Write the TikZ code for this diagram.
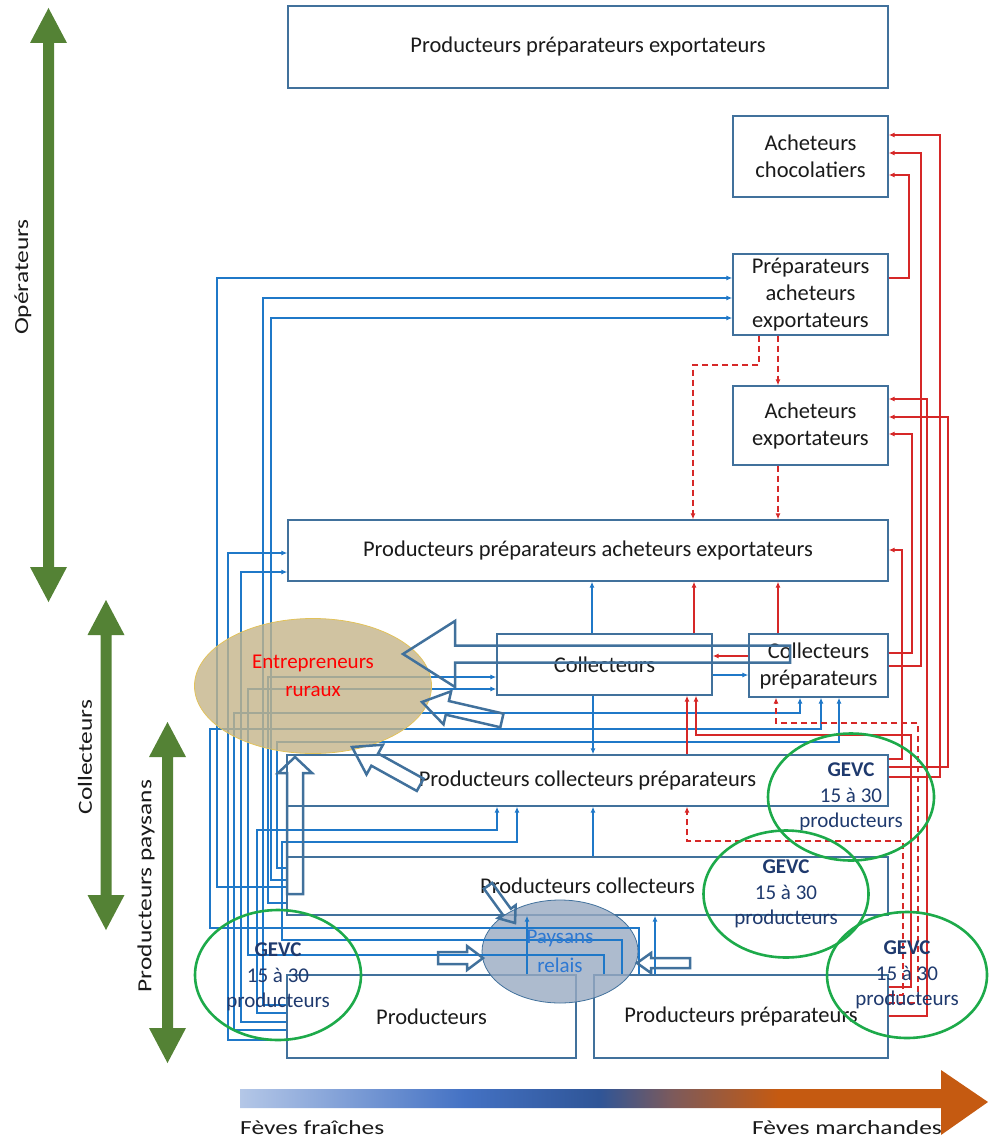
\documentclass[tikz,border=0pt]{standalone}
\usepackage{graphicx}
\usepackage{fontspec}
\setmainfont{Carlito}
\usetikzlibrary{arrows.meta, shapes.geometric}

\definecolor{boxline}{HTML}{41719C}
\definecolor{flowblue}{HTML}{1F78C8}
\definecolor{flowred}{HTML}{D62828}
\definecolor{gevcgreen}{HTML}{1DAA4A}
\definecolor{leafgreen}{HTML}{548235}
\definecolor{entrfill}{HTML}{C4B48A}
\definecolor{entrline}{HTML}{E2C25A}
\definecolor{relaisfill}{HTML}{98AAC2}
\definecolor{relaistext}{HTML}{2E78D2}
\definecolor{gevctext}{HTML}{1F3A6E}
\definecolor{textdark}{HTML}{1A1A1A}
\definecolor{fevA}{HTML}{B4C7E7}
\definecolor{fevB}{HTML}{4472C4}
\definecolor{fevC}{HTML}{2F5597}
\definecolor{fevD}{HTML}{7E5A5A}
\definecolor{fevE}{HTML}{C55A11}

\newcommand{\boxfont}{\fontsize{22.5}{27}\selectfont}
\newcommand{\gevcfont}{\fontsize{21}{25.5}\selectfont}
\newcommand{\sidefont}{\fontsize{20}{24}\selectfont}
\newcommand{\widetext}[1]{\scalebox{1.27}[1]{#1}}

\pgfdeclarehorizontalshading{feves}{100bp}{color(0bp)=(fevA); color(25bp)=(fevA);
  color(40bp)=(fevB); color(49bp)=(fevC); color(54bp)=(fevD); color(61bp)=(fevE);
  color(75bp)=(fevE); color(100bp)=(fevE)}

\tikzset{
  box/.style={draw=boxline, line width=1.3pt, minimum width=155, minimum height=81,
    inner sep=2pt, align=center, font=\boxfont, text=textdark},
  blueflow/.style={draw=flowblue, line width=1.3pt, -{Latex[length=6pt,width=5pt]}},
  redflow/.style={draw=flowred, line width=1.3pt, -{Latex[length=6pt,width=5pt]}},
  reddash/.style={redflow, dash pattern=on 6pt off 4pt},
  blockarrow/.style={draw=boxline, line width=2.5pt, line join=miter},
  gevc/.style={ellipse, draw=gevcgreen, line width=2.6pt, inner sep=0pt},
  gevclabel/.style={align=center, font=\gevcfont, text=gevctext},
  sidelabel/.style={font=\sidefont, text=textdark},
}

% tip x, tip y, angle, length, shaft half width, head half width, head length
\newcommand{\blkarrow}[7]{%
  \draw[blockarrow, shift={(#1,#2)}, rotate=#3]
    (0,0) -- (-#7,#6) -- (-#7,#5) -- (-#4,#5) -- (-#4,-#5) -- (-#7,-#5) -- (-#7,-#6) -- cycle;}
% x, top, bottom
\newcommand{\tallarrow}[3]{%
  \fill[leafgreen] (#1-5.5,#2+35) -- (#1-18.5,#2+35) -- (#1,#2) -- (#1+18.5,#2+35)
    -- (#1+5.5,#2+35) -- (#1+5.5,#3-35) -- (#1+18.5,#3-35) -- (#1,#3)
    -- (#1-18.5,#3-35) -- (#1-5.5,#3-35) -- cycle;}

\begin{document}
\begin{tikzpicture}[x=1pt, y=-1pt]
\useasboundingbox (0,0) rectangle (988,1139);

% side scales
\tallarrow{48.5}{8}{602}
\tallarrow{106}{600}{930}
\tallarrow{167.5}{722}{1063}
\node[sidelabel, rotate=90] (opLbl) at (23,277) {\widetext{Opérateurs}};
\node[sidelabel, rotate=90] (colLbl) at (85,757) {\widetext{Collecteurs}};
\node[sidelabel, rotate=90] (paysLbl) at (146,886) {\widetext{Producteurs paysans}};

% boxes
\node[box, minimum width=600, minimum height=82] (ppe) at (588,47) {Producteurs préparateurs exportateurs};
\node[box] (ach) at (810.5,156.5) {Acheteurs\\chocolatiers};
\node[box] (pae) at (810.5,294.5) {Préparateurs\\acheteurs\\exportateurs};
\node[box, minimum height=79] (ae) at (810.5,425.5) {Acheteurs\\exportateurs};
\node[box, minimum width=600, minimum height=61] (ppae) at (588,550.5) {Producteurs préparateurs acheteurs exportateurs};
\node[box, minimum width=215, minimum height=61] (coll) at (604.5,664.5) {Collecteurs};
\node[box, minimum width=139, minimum height=63] (cp) at (818.5,665.5) {Collecteurs\\préparateurs};
\node[box, minimum width=601, minimum height=51] (pcp) at (587.5,780.5) {Producteurs collecteurs préparateurs};
\node[box, minimum width=601, minimum height=58] (pc) at (587.5,886) {Producteurs collecteurs};
\node[box, minimum width=289, minimum height=83] (prod) at (431.5,1016.5) {Producteurs};
\node[box, minimum width=294, minimum height=83] (pp) at (741,1016.5) {Producteurs préparateurs};

% paysans relais (behind the flows)
\node[ellipse, fill=relaisfill, fill opacity=0.8, draw=boxline, line width=0.8pt,
  minimum width=156, minimum height=103, inner sep=0pt] (relais) at (560,951.5) {};

% blue flows, centre
\draw[blueflow] (592,0 |- coll.north) -- (592,0 |- ppae.south);
\draw[blueflow] (593,0 |- coll.south) -- (593,0 |- pcp.north);
\draw[blueflow] (coll.east |- 0,675) -- (cp.west |- 0,675);
\draw[blueflow] (593,0 |- pc.north) -- (593,0 |- pcp.south);
\draw[blueflow] (527,0 |- prod.north) -- (527,0 |- pc.south);
\draw[blueflow] (655,0 |- pp.north) -- (655,0 |- pc.south);

% blue flows, left bundle
\draw[blueflow] (639,0 |- pp.north) |- (210,928) |- (821,729) -- (821,0 |- cp.south);
\draw[blueflow] (pc.west |- 0,887) -| (217,278) -- (pae.west |- 0,278);
\draw[blueflow] (prod.west |- 0,1040) -| (228,553) -- (ppae.west |- 0,553);
\draw[blueflow] (prod.west |- 0,1030) -| (234,713) -| (800,0 |- cp.south);
\draw[blueflow] (prod.west |- 0,1022) -| (241,572) -- (ppae.west |- 0,572);
\draw[blueflow] (604,0 |- pp.north) |- (248,955) |- (coll.west |- 0,689);
\draw[blueflow] (prod.west |- 0,1013) -| (257,830) -| (497,0 |- pcp.south);
\draw[blueflow] (prod.west |- 0,1005) -| (263,298) -- (pae.west |- 0,298);
\draw[blueflow] (pc.west |- 0,903) -| (268,677) -- (coll.west |- 0,677);
\draw[blueflow] (pc.west |- 0,880) -| (271,318) -- (pae.west |- 0,318);
\draw[blueflow] (pc.west |- 0,868) -| (277,742) -| (839,0 |- cp.south);
\draw[blueflow] (622,0 |- pp.north) |- (282,940) |- (517,842) -- (517,0 |- pcp.south);

% red flows
\draw[redflow] (pae.east |- 0,278) -| (909,175) -- (ach.east |- 0,175);
\draw[redflow] (cp.east |- 0,666) -| (921,153) -- (ach.east |- 0,153);
\draw[redflow] (pcp.east |- 0,777) -| (940,135) -- (ach.east |- 0,135);
\draw[redflow] (pp.east |- 0,1016) -| (927,399) -- (ae.east |- 0,399);
\draw[redflow] (pcp.east |- 0,767) -| (948,417) -- (ae.east |- 0,417);
\draw[redflow] (cp.east |- 0,653) -| (912,434) -- (ae.east |- 0,434);
\draw[redflow] (pcp.east |- 0,759) -| (902,550) -- (ppae.east |- 0,550);
\draw[redflow] (694,0 |- coll.north) -- (694,0 |- ppae.south);
\draw[redflow] (778,0 |- cp.north) -- (778,0 |- ppae.south);
\draw[redflow] (cp.west |- 0,656) -- (coll.east |- 0,656);
\draw[redflow] (687,0 |- pcp.north) -- (687,0 |- coll.south);
\draw[redflow] (pp.east |- 0,987) -| (911,735) -| (696,0 |- coll.south);
\draw[reddash] (759,0 |- pae.south) |- (693,365) -- (693,0 |- ppae.north);
\draw[reddash] (778,0 |- pae.south) -- (778,0 |- ae.north);
\draw[reddash] (778,0 |- ae.south) -- (778,0 |- ppae.north);
\draw[reddash] (pp.east |- 0,1003) -| (918,723) -| (776,0 |- cp.south);
\draw[reddash] (pp.east |- 0,995) -| (903,841) -| (687,0 |- pcp.south);

% entrepreneurs ruraux
\node[ellipse, fill=entrfill, fill opacity=0.8, draw=entrline, line width=0.8pt,
  minimum width=237, minimum height=135, inner sep=0pt] (entr) at (313,686) {};
\node[align=center, font=\fontsize{21}{28}\selectfont, text=red] (entrLbl) at (313,676) {Entrepreneurs\\ruraux};
\node[align=center, font=\fontsize{21}{29}\selectfont, text=relaistext] (relaisLbl) at (560,951.5) {Paysans\\relais};

% open block arrows
\blkarrow{403}{654}{180}{387}{8.5}{33}{52}
\blkarrow{422}{702}{167}{82}{7}{17}{26}
\blkarrow{352}{747}{151}{78}{7}{17}{26}
\blkarrow{295}{757}{90}{137}{8}{17}{16}
\blkarrow{515}{923}{-54}{46}{5}{11}{14}
\blkarrow{483}{958}{0}{45}{6}{12}{16}
\blkarrow{637}{963}{180}{53}{5}{10}{14}

% GEVC groups
\node[gevc, minimum width=166, minimum height=130] (gevcA) at (278,975) {};
\node[gevclabel] (gevcAtxt) at (278,977) {\textbf{GEVC}\\15 à 30\\producteurs};
\node[gevc, minimum width=166, minimum height=127] (gevcB) at (851,797) {};
\node[gevclabel] (gevcBtxt) at (851,797) {\textbf{GEVC}\\15 à 30\\producteurs};
\node[gevc, minimum width=165, minimum height=127] (gevcC) at (786,894) {};
\node[gevclabel] (gevcCtxt) at (786,894) {\textbf{GEVC}\\15 à 30\\producteurs};
\node[gevc, minimum width=160, minimum height=126] (gevcD) at (907,975) {};
\node[gevclabel] (gevcDtxt) at (907,975) {\textbf{GEVC}\\15 à 30\\producteurs};

% bean scale
\shade[shading=feves] (240,1089) -- (941,1089) -- (941,1070) -- (988,1102) -- (941,1135)
  -- (941,1108) -- (240,1108) -- cycle;
\node[sidelabel, anchor=base west, inner sep=0pt] (fraiches) at (240,1134) {\widetext{Fèves fraîches}};
\node[sidelabel, anchor=base east, inner sep=0pt] (marchandes) at (942,1134) {\widetext{Fèves marchandes}};
\end{tikzpicture}
\end{document}
